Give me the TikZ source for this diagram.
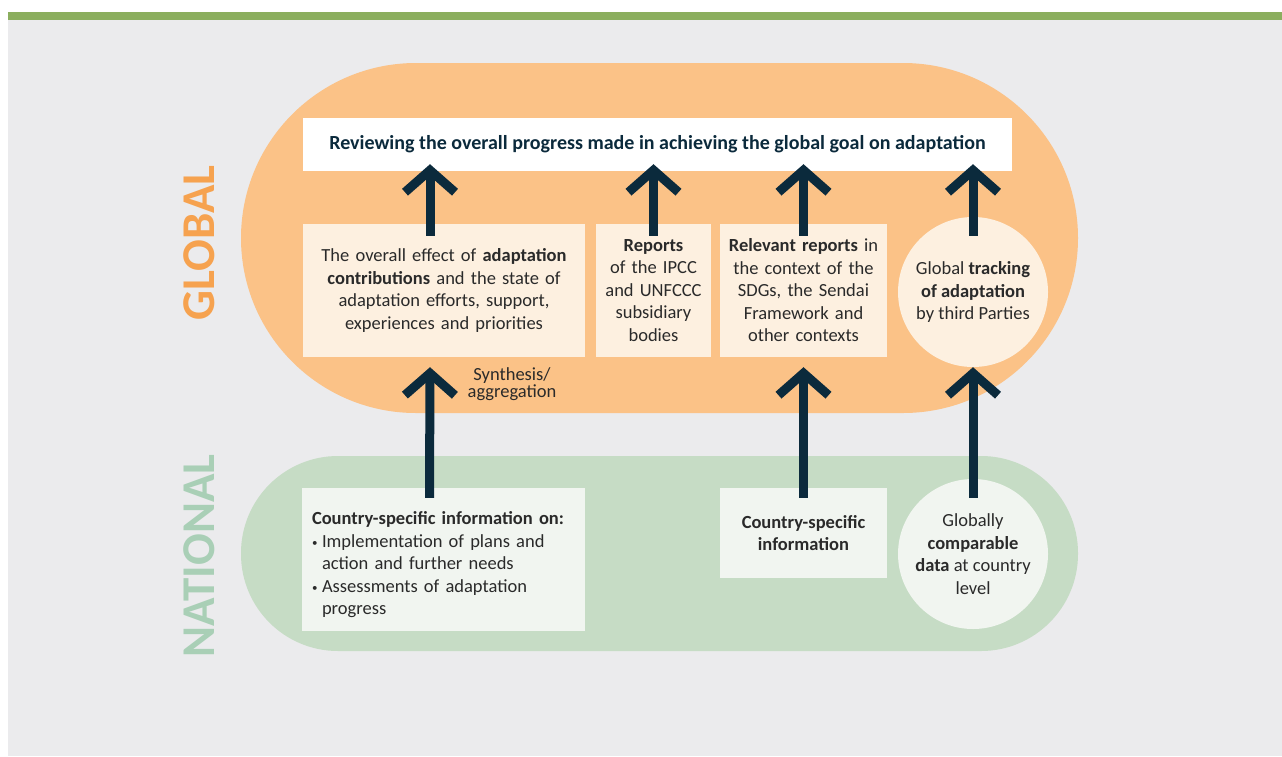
\documentclass[tikz,border=0pt]{standalone}
\usepackage{fontspec}
\setmainfont{Carlito}
\usetikzlibrary{arrows.meta,positioning}

\definecolor{bargreen}{HTML}{8BAE5E}
\definecolor{bggrey}{HTML}{EBEBED}
\definecolor{caporange}{HTML}{FBC287}
\definecolor{capgreen}{HTML}{C6DCC5}
\definecolor{cream}{HTML}{FDF0E0}
\definecolor{palegreen}{HTML}{F1F5F0}
\definecolor{navy}{HTML}{0B2A3C}
\definecolor{globalorange}{HTML}{F6A24F}
\definecolor{nationalgreen}{HTML}{A9CFB6}
\definecolor{textdark}{HTML}{2A2A2A}

\newcommand{\bul}{\makebox[10pt][l]{\raisebox{1pt}{\fontsize{11}{11}\selectfont\textbullet}}}

\tikzset{
  infobox/.style={rectangle, inner sep=0pt, align=center, text=textdark,
    font=\fontsize{18.5}{22.5}\selectfont},
  roundbox/.style={circle, inner sep=0pt, minimum size=150pt, align=center,
    text=textdark, font=\fontsize{18.5}{22.5}\selectfont},
  flow/.style={draw=navy, line width=9pt,
    -{Straight Barb[length=22pt, width=50pt, line width=9pt, sharp]}},
  levellabel/.style={rotate=90, font=\bfseries\fontsize{47}{47}\selectfont}
}

\begin{document}
\begin{tikzpicture}[x=1pt, y=-1pt]
    % Page, grey background and green top bar
    \useasboundingbox (0,0) rectangle (1282,756);
    \fill[white] (0,0) rectangle (1282,756);
    \fill[bggrey] (8,20) rectangle (1282,756);
    \fill[bargreen] (8,12) rectangle (1282,20);

    % Draw the global and national capsules
    \fill[caporange, rounded corners=175pt] (241,63) rectangle (1078,413);
    \fill[capgreen, rounded corners=97pt] (241,456) rectangle (1078,651);

    % Level labels
    \node[levellabel, text=globalorange] (global) at (199,243) {GLOBAL};
    \node[levellabel, text=nationalgreen] (national) at (199,556) {NATIONAL};

    % Goal at the top
    \node[infobox, fill=white, minimum width=709pt, minimum height=53pt,
      text=navy, font=\bfseries\fontsize{20}{22}\selectfont]
      (goal) at (657.5,144.5)
      {Reviewing the overall progress made in achieving the global goal on adaptation};

    % Global row
    \node[infobox, fill=cream, minimum width=282pt, minimum height=133pt, text width=270pt]
      (effect) at (444,290.5)
      {The overall effect of \textbf{adaptation}\\\textbf{contributions} and the state of\\
       adaptation efforts, support,\\experiences and priorities};
    \node[infobox, fill=cream, minimum width=115pt, minimum height=133pt, text width=112pt]
      (ipcc) at (653.5,290.5)
      {\textbf{Reports}\\of the IPCC\\and UNFCCC\\subsidiary\\bodies};
    \node[infobox, fill=cream, minimum width=167pt, minimum height=133pt, text width=164pt]
      (sdgs) at (803.5,290.5)
      {\textbf{Relevant reports} in\\the context of the\\SDGs, the Sendai\\Framework and\\other contexts};
    \node[roundbox, fill=cream] (tracking) at (973,292)
      {Global \textbf{tracking}\\\textbf{of adaptation}\\by third Parties};

    % National row
    \node[infobox, fill=palegreen, minimum width=283pt, minimum height=143pt,
      text width=263pt, align=left]
      (countryinfo) at (443.5,559.5)
      {\rule{0pt}{24pt}\textbf{Country-specific information on:}\\
       \bul Implementation of plans and\\
       \hspace*{10pt}action and further needs\\
       \bul Assessments of adaptation\\
       \hspace*{10pt}progress};
    \node[infobox, fill=palegreen, minimum width=167pt, minimum height=90pt, text width=164pt]
      (countryspec) at (803.5,533)
      {\textbf{Country-specific}\\\textbf{information}};
    \node[roundbox, fill=palegreen] (comparable) at (973,554)
      {Globally\\\textbf{comparable}\\\textbf{data} at country\\level};

    % Synthesis label
    \node[infobox, font=\fontsize{18.5}{17}\selectfont] (synthesis) at (512,384) {Synthesis/\\aggregation};

    % Arrows up to the goal
    \draw[flow] ([xshift=-14pt,yshift=-12pt]effect.north) -- ([xshift=-14pt,yshift=7pt]effect.north |- goal.south);
    \draw[flow] ([yshift=-12pt]ipcc.north) -- ([yshift=7pt]ipcc.north |- goal.south);
    \draw[flow] ([yshift=-12pt]sdgs.north) -- ([yshift=7pt]sdgs.north |- goal.south);
    \draw[flow] ([yshift=-19pt]tracking.north) -- ([yshift=7pt]tracking.north |- goal.south);

    % Arrows from national to global
    \draw[flow] ([xshift=-14pt,yshift=-10pt]countryinfo.north) -- ([xshift=-14pt,yshift=-10pt]effect.south);
    \draw[flow] ([yshift=-10pt]countryspec.north) -- ([yshift=-10pt]sdgs.south);
    \draw[flow] ([yshift=-19pt]comparable.north) -- (tracking.south);
\end{tikzpicture}
\end{document}
